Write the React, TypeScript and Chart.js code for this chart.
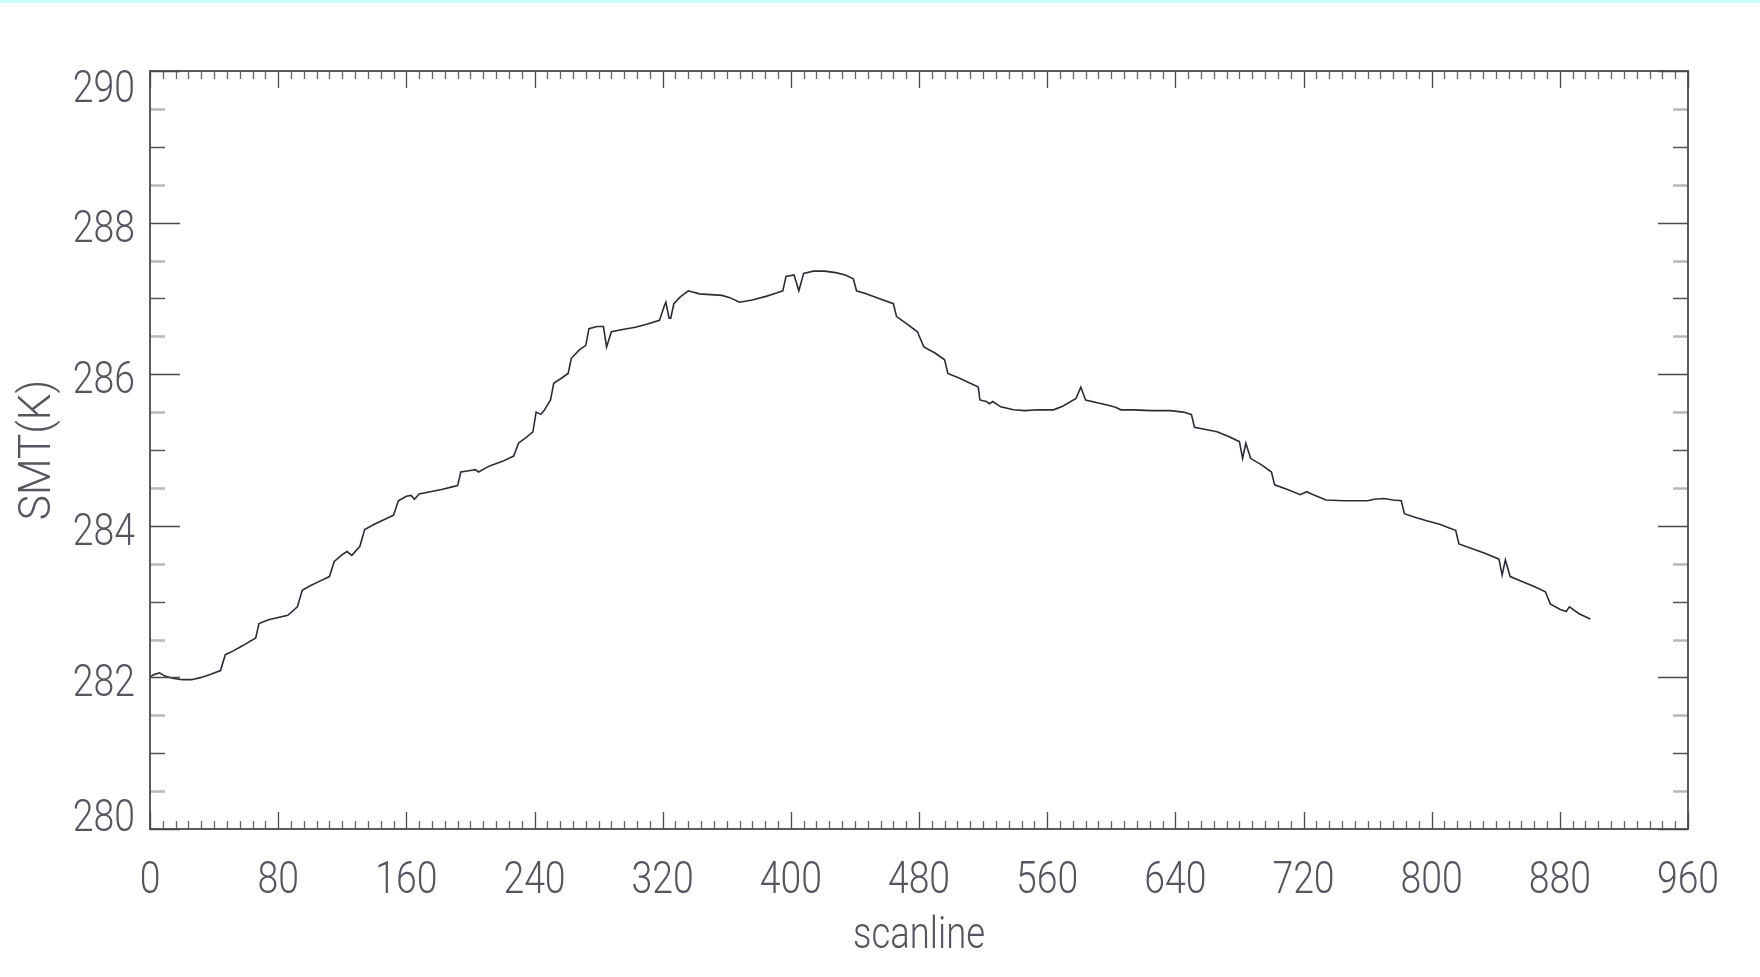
import React, { useEffect, useRef } from "react";
import { Chart, registerables } from "chart.js";

Chart.register(...registerables);

// Scanline positions (x) and surface temperature SMT in K (y)
const scanlines = [
  0, 3, 6, 9, 14, 20, 26, 32, 38, 44, 47, 52, 58, 66, 68, 74, 80, 86, 92, 95,
  100, 106, 112, 115, 120, 123, 126, 131, 134, 140, 146, 152, 155, 160, 163, 165, 168, 175, 182, 188,
  192, 194, 200, 203, 205, 212, 220, 227, 230, 235, 239, 241, 244, 246, 250, 252, 257, 261, 263, 268,
  272, 274, 279, 283, 285, 288, 295, 303, 310, 318, 321, 322, 324, 325, 327, 331, 336, 343, 350, 357,
  362, 368, 376, 385, 391, 395, 397, 402, 405, 408, 414, 421, 428, 434, 439, 441, 447, 455, 464, 466,
  472, 479, 483, 490, 496, 498, 505, 511, 517, 518, 522, 524, 526, 531, 539, 546, 554, 564, 570, 578,
  581, 584, 592, 600, 603, 606, 614, 625, 637, 645, 650, 652, 659, 666, 673, 680, 682, 684, 687, 694,
  700, 702, 710, 718, 722, 725, 734, 745, 753, 760, 764, 770, 776, 781, 783, 790, 798, 805, 811, 815,
  817, 825, 834, 842, 844, 846, 849, 856, 864, 871, 874, 880, 884, 886, 892, 899,
];
const smt = [
  282.01, 282.04, 282.06, 282.02, 281.99, 281.97, 281.97, 282.0, 282.04, 282.09, 282.3, 282.35, 282.42, 282.52, 282.71, 282.76, 282.79, 282.82, 282.93, 283.15,
  283.21, 283.27, 283.33, 283.53, 283.62, 283.66, 283.61, 283.73, 283.95, 284.02, 284.08, 284.14, 284.33, 284.39, 284.4, 284.35, 284.42, 284.45, 284.48, 284.51,
  284.53, 284.71, 284.73, 284.74, 284.71, 284.79, 284.85, 284.92, 285.09, 285.17, 285.24, 285.5, 285.47, 285.52, 285.66, 285.88, 285.95, 286.01, 286.21, 286.32,
  286.38, 286.6, 286.63, 286.63, 286.36, 286.56, 286.59, 286.62, 286.66, 286.71, 286.9, 286.95, 286.74, 286.74, 286.93, 287.02, 287.1, 287.06, 287.05, 287.04,
  287.01, 286.95, 286.98, 287.03, 287.07, 287.1, 287.29, 287.31, 287.1, 287.33, 287.36, 287.36, 287.34, 287.31, 287.26, 287.1, 287.06, 287.0, 286.93, 286.76,
  286.67, 286.56, 286.36, 286.28, 286.19, 286.01, 285.95, 285.89, 285.83, 285.66, 285.64, 285.61, 285.64, 285.57, 285.53, 285.52, 285.53, 285.53, 285.58, 285.68,
  285.83, 285.66, 285.62, 285.58, 285.56, 285.53, 285.53, 285.52, 285.52, 285.5, 285.47, 285.3, 285.27, 285.24, 285.18, 285.11, 284.89, 285.09, 284.89, 284.8,
  284.71, 284.54, 284.48, 284.41, 284.45, 284.42, 284.34, 284.33, 284.33, 284.33, 284.35, 284.36, 284.34, 284.33, 284.16, 284.11, 284.06, 284.02, 283.97, 283.94,
  283.76, 283.7, 283.63, 283.56, 283.35, 283.55, 283.33, 283.27, 283.2, 283.13, 282.97, 282.9, 282.87, 282.93, 282.84, 282.77,
];

const xTickValues = [0, 80, 160, 240, 320, 400, 480, 560, 640, 720, 800, 880, 960];
const yTickValues = [280, 282, 284, 286, 288, 290];
const xMinorStep = 8;
const yMinorStep = 0.5;
const xTitle = "scanline";
const yTitle = "SMT(K)";

const FONT = '300 45px Roboto, "Liberation Sans", sans-serif';
const TEXT_COLOR = "#555560";

function drawScaledText(
  ctx: CanvasRenderingContext2D,
  text: string,
  x: number,
  y: number,
  align: CanvasTextAlign,
  baseline: CanvasTextBaseline,
  sx: number,
  rotate = 0
) {
  ctx.save();
  ctx.translate(x, y);
  if (rotate) ctx.rotate(rotate);
  ctx.scale(sx, 1);
  ctx.font = FONT;
  ctx.fillStyle = TEXT_COLOR;
  ctx.textAlign = align;
  ctx.textBaseline = baseline;
  ctx.fillText(text, 0, 0);
  ctx.restore();
}

const idlFrame = {
  id: "idlFrame",
  afterDatasetsDraw(chart: any) {
    const { ctx, chartArea: a, scales } = chart;
    const xs = scales.x;
    const ys = scales.y;
    ctx.save();

    // Y ticks (left and right, pointing inward)
    const yMin = yTickValues[0];
    const yMax = yTickValues[yTickValues.length - 1];
    const nY = Math.round((yMax - yMin) / yMinorStep);
    for (let i = 0; i <= nY; i++) {
      const v = yMin + i * yMinorStep;
      const py = Math.round(ys.getPixelForValue(v)) + 0.5;
      const isMajor = yTickValues.indexOf(v) >= 0;
      const isInt = Math.abs(v - Math.round(v)) < 1e-6;
      let len = 15;
      if (isMajor) {
        len = 30;
        ctx.strokeStyle = "#4a4a4a";
        ctx.lineWidth = 1.4;
      } else if (isInt) {
        ctx.strokeStyle = "#555";
        ctx.lineWidth = 1.3;
      } else {
        ctx.strokeStyle = "#b8b8b8";
        ctx.lineWidth = 2.6;
      }
      ctx.beginPath();
      ctx.moveTo(a.left, py);
      ctx.lineTo(a.left + len, py);
      ctx.moveTo(a.right, py);
      ctx.lineTo(a.right - len, py);
      ctx.stroke();
    }

    // X ticks (bottom and top, pointing inward)
    const xMin = xTickValues[0];
    const xMax = xTickValues[xTickValues.length - 1];
    const nX = Math.round((xMax - xMin) / xMinorStep);
    for (let i = 0; i <= nX; i++) {
      const v = xMin + i * xMinorStep;
      const px = Math.round(xs.getPixelForValue(v)) + 0.5;
      const isMajor = xTickValues.indexOf(v) >= 0;
      const len = isMajor ? 17 : 8;
      ctx.strokeStyle = isMajor ? "#4a4a4a" : "#666";
      ctx.lineWidth = 1.3;
      ctx.beginPath();
      ctx.moveTo(px, a.bottom);
      ctx.lineTo(px, a.bottom - len);
      ctx.moveTo(px, a.top);
      ctx.lineTo(px, a.top + len);
      ctx.stroke();
    }

    // Frame
    ctx.strokeStyle = "#4a4a4a";
    ctx.lineWidth = 1.8;
    ctx.strokeRect(a.left, a.top, a.right - a.left, a.bottom - a.top);

    // Y tick labels
    yTickValues.forEach((v, i) => {
      const py = ys.getPixelForValue(v);
      let baseY = py + 19;
      if (i === 0) baseY = py + 2;
      if (i === yTickValues.length - 1) baseY = py + 31;
      drawScaledText(ctx, String(v), a.left - 15, baseY, "right", "alphabetic", 0.83);
    });

    // X tick labels
    xTickValues.forEach((v) => {
      const px = xs.getPixelForValue(v);
      drawScaledText(ctx, String(v), px, a.bottom + 64, "center", "alphabetic", 0.83);
    });

    // Axis titles
    drawScaledText(ctx, xTitle, (a.left + a.right) / 2, a.bottom + 119, "center", "alphabetic", 0.81);
    drawScaledText(ctx, yTitle, 50, (a.top + a.bottom) / 2, "center", "alphabetic", 0.94, -Math.PI / 2);

    ctx.restore();
  },
};

export default function App() {
  const canvasRef = useRef<HTMLCanvasElement | null>(null);

  useEffect(() => {
    document.body.style.margin = "0";
    const canvas = canvasRef.current;
    if (!canvas) return;
    const chart = new Chart(canvas, {
      type: "line",
      data: {
        datasets: [
          {
            data: scanlines.map((s, i) => ({ x: s, y: smt[i] })),
            borderColor: "#2c2c36",
            borderWidth: 1.6,
            pointRadius: 0,
            tension: 0,
            fill: false,
          },
        ],
      },
      options: {
        animation: false,
        responsive: false,
        devicePixelRatio: 1,
        layout: { padding: { left: 150, right: 72, top: 71, bottom: 148 } },
        scales: {
          x: { type: "linear", min: 0, max: 960, display: false },
          y: { type: "linear", min: 280, max: 290, display: false },
        },
        plugins: {
          legend: { display: false },
          tooltip: { enabled: false },
        },
      },
      plugins: [idlFrame],
    });
    return () => chart.destroy();
  }, []);

  return (
    <div style={{ position: "relative", width: 1760, height: 977, background: "#ffffff" }}>
      <div style={{ position: "absolute", left: 0, top: 0, width: 1760, height: 3, background: "#ccffff" }} />
      <canvas ref={canvasRef} width={1760} height={977} style={{ display: "block", width: 1760, height: 977 }} />
    </div>
  );
}
